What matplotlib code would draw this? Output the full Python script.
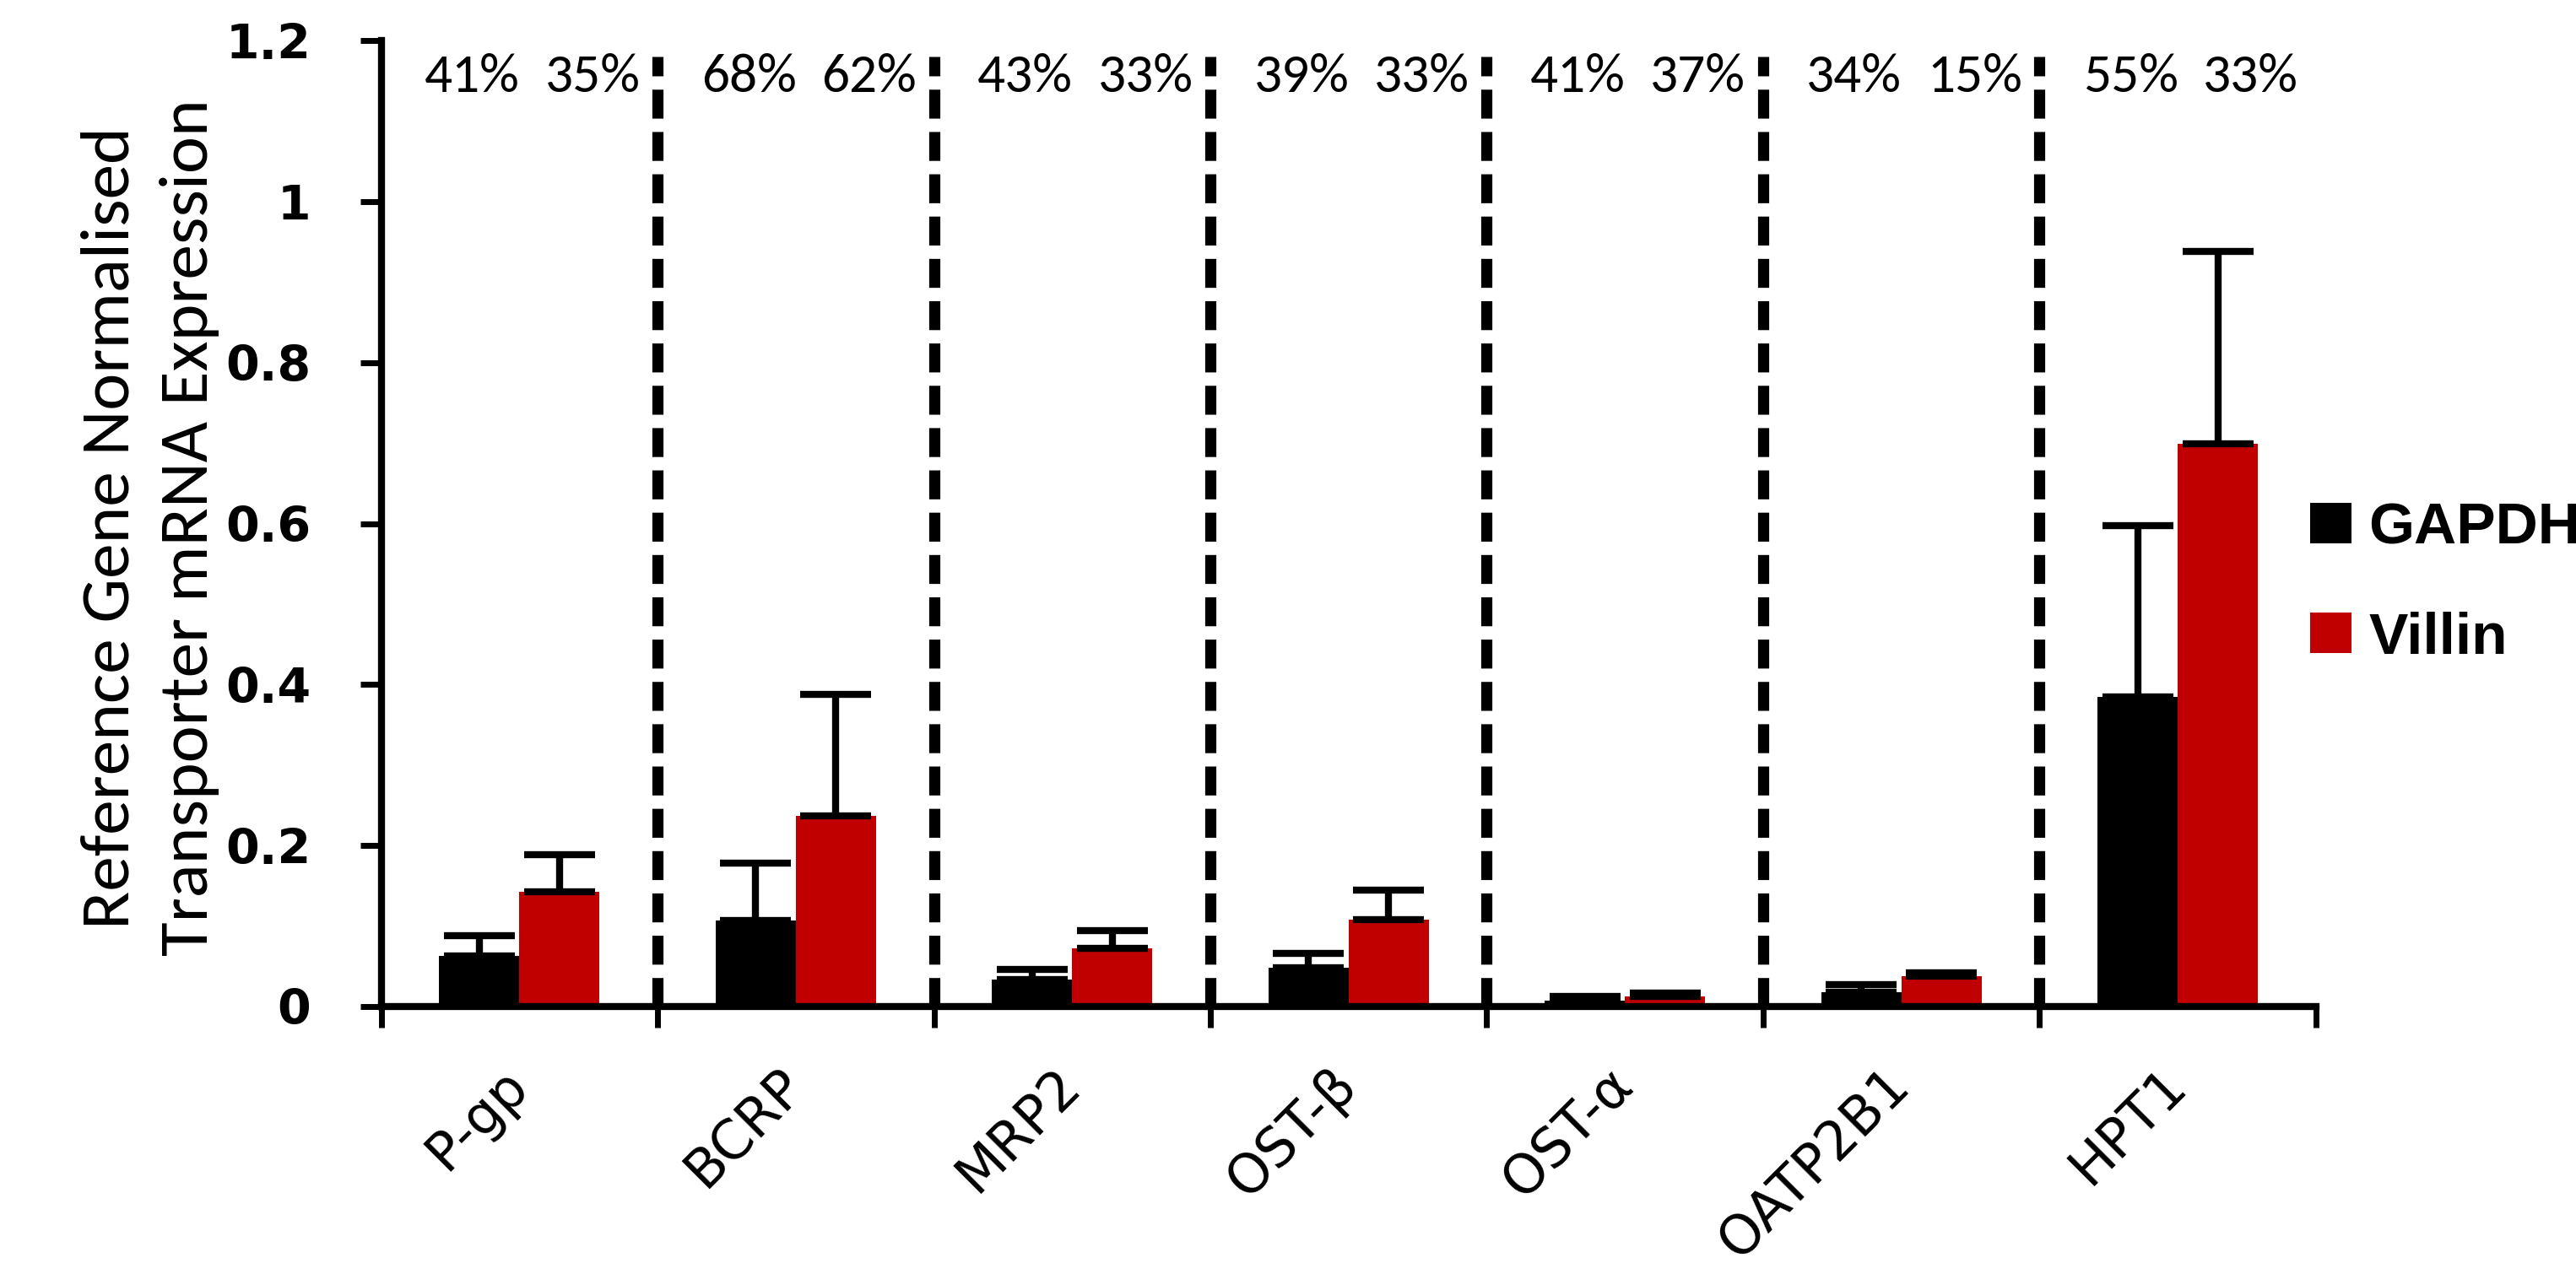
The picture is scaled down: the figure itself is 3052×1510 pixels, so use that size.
import matplotlib
matplotlib.use("Agg")
import matplotlib.pyplot as plt
import numpy as np
from matplotlib import font_manager

# transporters and the two reference genes
transporters = ["P-gp", "BCRP", "MRP2", "OST-\u03b2", "OST-\u03b1", "OATP2B1", "HPT1"]
gapdh = [0.063, 0.107, 0.033, 0.048, 0.007, 0.018, 0.385]
gapdh_err = [0.025, 0.071, 0.013, 0.018, 0.006, 0.009, 0.212]
villin = [0.143, 0.237, 0.072, 0.108, 0.013, 0.038, 0.699]
villin_err = [0.046, 0.151, 0.022, 0.037, 0.004, 0.004, 0.239]

# percentage labels above each group
gapdh_pct = ["41%", "68%", "43%", "39%", "41%", "34%", "55%"]
villin_pct = ["35%", "62%", "33%", "33%", "37%", "15%", "33%"]

yticks = [0, 0.2, 0.4, 0.6, 0.8, 1.0, 1.2]
ytick_labels = ["0", "0.2", "0.4", "0.6", "0.8", "1", "1.2"]

RED = "#C00000"


def pick_font(names):
    for name in names:
        try:
            font_manager.findfont(name, fallback_to_default=False)
            return name
        except ValueError:
            pass
    return "DejaVu Sans"


narrow = pick_font(["Carlito", "Liberation Sans Narrow", "Roboto Condensed", "Liberation Sans"])
arial = pick_font(["Liberation Sans", "Arimo"])

fig = plt.figure(figsize=(30.52, 15.10), dpi=100)
ax = fig.add_axes([0.148, 0.21, 0.751, 0.758])

x = np.arange(len(transporters))
width = 0.29
ax.bar(x - width / 2, gapdh, width, color="black", label="GAPDH",
       yerr=[np.zeros(len(x)), gapdh_err],
       error_kw=dict(ecolor="black", elinewidth=6, capsize=30, capthick=6), zorder=2)
ax.bar(x + width / 2, villin, width, color=RED, label="Villin",
       yerr=[np.zeros(len(x)), villin_err],
       error_kw=dict(ecolor="black", elinewidth=6, capsize=30, capthick=6), zorder=2)

# dashed separators between transporters
ax.vlines(x[:-1] + 0.5, 0, 1.18, colors="black", linestyles=(0, (2.6, 1.2)),
          linewidth=9.5, zorder=1)

for i in x:
    ax.text(i - 0.17, 1.155, gapdh_pct[i], ha="center", va="center",
            fontsize=47, family=narrow)
    ax.text(i + 0.265, 1.155, villin_pct[i], ha="center", va="center",
            fontsize=47, family=narrow)

ax.set_xlim(-0.5, len(x) - 0.5)
ax.set_ylim(0, 1.2)

for side in ["top", "right"]:
    ax.spines[side].set_visible(False)
for side in ["left", "bottom"]:
    ax.spines[side].set_linewidth(6)
    ax.spines[side].set_zorder(3)

ax.set_yticks(yticks, ytick_labels)
ax.tick_params(axis="y", direction="out", length=18, width=5, pad=42,
               labelsize=41)
for lbl in ax.get_yticklabels():
    lbl.set_fontweight("bold")
    lbl.set_family("DejaVu Sans")

# ticks on the group borders, labels in the middle
ax.set_xticks(np.arange(-0.5, len(x)), [])
ax.tick_params(axis="x", which="major", direction="out", length=18, width=5)
ax.set_xticks(x, transporters, minor=True)
ax.tick_params(axis="x", which="minor", length=0, pad=60, labelsize=46)
for lbl in ax.get_xticklabels(minor=True):
    lbl.set_rotation(45)
    lbl.set_ha("right")
    lbl.set_va("center")
    lbl.set_rotation_mode("anchor")
    lbl.set_family("DejaVu Sans")

fig.text(0.043, 0.586, "Reference Gene Normalised", rotation=90,
         ha="center", va="center", fontsize=60, family=narrow)
fig.text(0.0735, 0.586, "Transporter mRNA Expression", rotation=90,
         ha="center", va="center", fontsize=60, family=narrow)

ax.legend(loc="center left", bbox_to_anchor=(0.8968, 0.542),
          bbox_transform=fig.transFigure, frameon=False, borderpad=0,
          borderaxespad=0, handlelength=0.7, handleheight=0.68,
          handletextpad=0.3, labelspacing=0.95,
          prop=dict(family=arial, weight="bold", size=50))

fig.savefig("out.png", dpi=100)
